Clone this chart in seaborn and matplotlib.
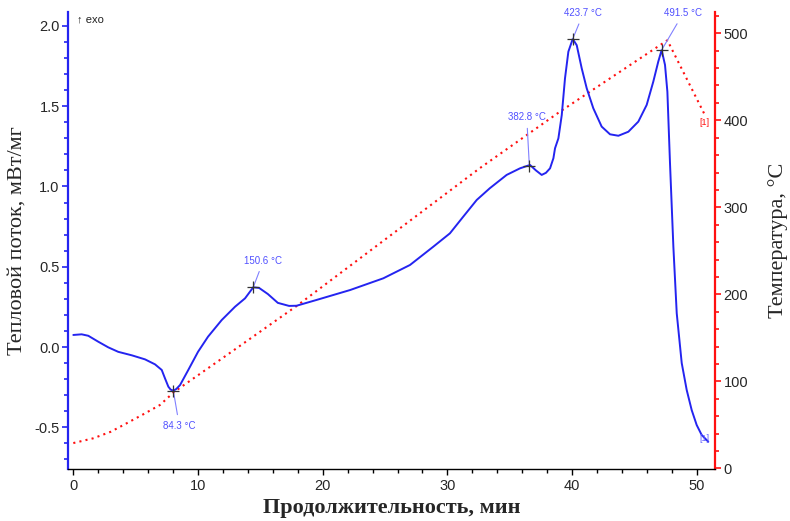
import matplotlib
matplotlib.use('Agg')
import matplotlib.pyplot as plt
from matplotlib.ticker import MultipleLocator
import seaborn as sns

# DSC curve
dsc_time = [0.0, 0.67, 1.2, 2.0, 2.8, 3.6, 4.7, 5.75, 6.55, 7.09, 7.35, 7.62, 7.8,
            8.02, 8.25, 8.56, 9.22, 10.0, 10.8, 11.9, 12.97, 13.77, 14.43, 14.9, 15.6,
            16.4, 17.3, 17.9, 19.5, 22.2, 24.86, 27.0, 28.87, 30.2, 31.27, 32.35, 33.4,
            34.75, 35.82, 36.62, 37.1, 37.56, 37.9, 38.23, 38.5, 38.63, 38.9, 39.17,
            39.43, 39.7, 40.05, 40.37, 40.77, 41.17, 41.7, 42.37, 43.04, 43.71, 44.51,
            45.31, 45.98, 46.51, 46.91, 47.18, 47.45, 47.64, 47.85, 48.12, 48.39,
            48.79, 49.19, 49.59, 49.99, 50.39, 50.92]
dsc_flow = [0.075, 0.079, 0.07, 0.033, -0.002, -0.03, -0.052, -0.077, -0.108, -0.143,
            -0.195, -0.247, -0.265, -0.272, -0.262, -0.237, -0.143, -0.03, 0.064, 0.168,
            0.251, 0.303, 0.372, 0.368, 0.33, 0.275, 0.256, 0.257, 0.293, 0.355, 0.428,
            0.511, 0.625, 0.708, 0.812, 0.916, 0.989, 1.072, 1.113, 1.134, 1.10, 1.072,
            1.085, 1.113, 1.176, 1.238, 1.30, 1.445, 1.674, 1.84, 1.919, 1.88, 1.736,
            1.612, 1.487, 1.373, 1.325, 1.316, 1.341, 1.404, 1.508, 1.653, 1.778, 1.85,
            1.757, 1.59, 1.145, 0.625, 0.21, -0.10, -0.268, -0.393, -0.486, -0.548, -0.59]

# temperature program
temp_time = [0, 1.6, 3.0, 4.27, 5.6, 6.95, 8.1, 12, 17.9, 25, 32.6, 39.03, 47.64, 50.65]
temp_val = [29, 34.5, 42, 51.7, 62, 72.8, 88, 127, 186.5, 263, 345, 410, 492, 406]

# marked peaks
peak_time = [8.02, 14.43, 36.57, 40.05, 47.18]
peak_flow = [-0.272, 0.372, 1.13, 1.919, 1.85]
peak_labels = ['84.3 °C', '150.6 °C', '382.8 °C', '423.7 °C', '491.5 °C']
label_pos = [(8.5, -0.49), (15.24, 0.538), (36.36, 1.431), (40.9, 2.08), (48.92, 2.08)]

BLUE = '#2424f0'
RED = '#ff1010'
sans = ['Liberation Sans', 'DejaVu Sans']
serif = ['Liberation Serif', 'DejaVu Serif']

sns.set_style('white')
plt.rcParams['font.family'] = sans
plt.rcParams['axes.unicode_minus'] = False

fig = plt.figure(figsize=(7.9, 5.21), dpi=100)
ax = fig.add_axes([0.0861, 0.0998, 0.8193, 0.8772])
ax2 = ax.twinx()

sns.lineplot(x=dsc_time, y=dsc_flow, ax=ax, color=BLUE, lw=1.4,
             sort=False, estimator=None, zorder=3)
sns.lineplot(x=temp_time, y=temp_val, ax=ax2, color=RED, lw=1.5,
             linestyle=(0, (1, 2)), sort=False, estimator=None)

ax.set_zorder(ax2.get_zorder() + 1)
ax.patch.set_visible(False)

ax.plot(peak_time, peak_flow, '+', color='#333333', ms=9, mew=0.9, zorder=4)
for t, v, s, pos in zip(peak_time, peak_flow, peak_labels, label_pos):
    ax.annotate(s, xy=(t, v), xytext=pos, ha='center', va='center',
                fontsize=7, color='#5050ff', annotation_clip=False,
                arrowprops=dict(arrowstyle='-', color='#8080ff', lw=0.8,
                                shrinkA=2, shrinkB=0))

ax.text(50.6, -0.569, '[1]', fontsize=6.5, color='#6060ff', ha='center', va='center')
ax2.text(50.6, 398, '[1]', fontsize=6.5, color=RED, ha='center', va='center')
ax.text(0.3, 2.04, '↑ exo', fontsize=8, color='#222222', ha='left', va='center',
        family=sans)

ax.set_xlim(-0.425, 51.48)
ax.set_ylim(-0.76, 2.087)
ax2.set_ylim(-0.8, 524.5)

ax.xaxis.set_major_locator(MultipleLocator(10))
ax.xaxis.set_minor_locator(MultipleLocator(2))
ax.yaxis.set_major_locator(MultipleLocator(0.5))
ax.yaxis.set_minor_locator(MultipleLocator(0.1))
ax2.yaxis.set_major_locator(MultipleLocator(100))
ax2.yaxis.set_minor_locator(MultipleLocator(20))

for a in (ax, ax2):
    a.spines['top'].set_visible(False)
    a.grid(False)
ax.spines['right'].set_visible(False)
ax2.spines['left'].set_visible(False)
ax2.spines['bottom'].set_visible(False)
ax.spines['left'].set_color(BLUE)
ax.spines['left'].set_linewidth(1.6)
ax.spines['bottom'].set_color('black')
ax.spines['bottom'].set_linewidth(1.0)
ax2.spines['right'].set_color(RED)
ax2.spines['right'].set_linewidth(1.6)

ax.tick_params(axis='y', which='both', direction='out', color=BLUE, width=1.2, left=True)
ax.tick_params(axis='y', which='major', length=4, labelsize=10.5, pad=2)
ax.tick_params(axis='y', which='minor', length=3)
ax.tick_params(axis='x', which='both', direction='out', color='black', width=1, bottom=True)
ax.tick_params(axis='x', which='major', length=4, labelsize=10.5, pad=3)
ax.tick_params(axis='x', which='minor', length=3)
ax2.tick_params(axis='y', which='both', direction='out', color=RED, width=1.2, right=True)
ax2.tick_params(axis='y', which='major', length=4, labelsize=10.5, pad=2)
ax2.tick_params(axis='y', which='minor', length=3)

ax.set_xlabel('Продолжительность, мин', family=serif, fontsize=16,
              fontweight='bold', labelpad=4)
ax.set_ylabel('Тепловой поток, мВт/мг', family=serif, fontsize=16, labelpad=6)
ax2.set_ylabel('Температура, °C', family=serif, fontsize=16, labelpad=14)

fig.savefig('out.png', dpi=100)
